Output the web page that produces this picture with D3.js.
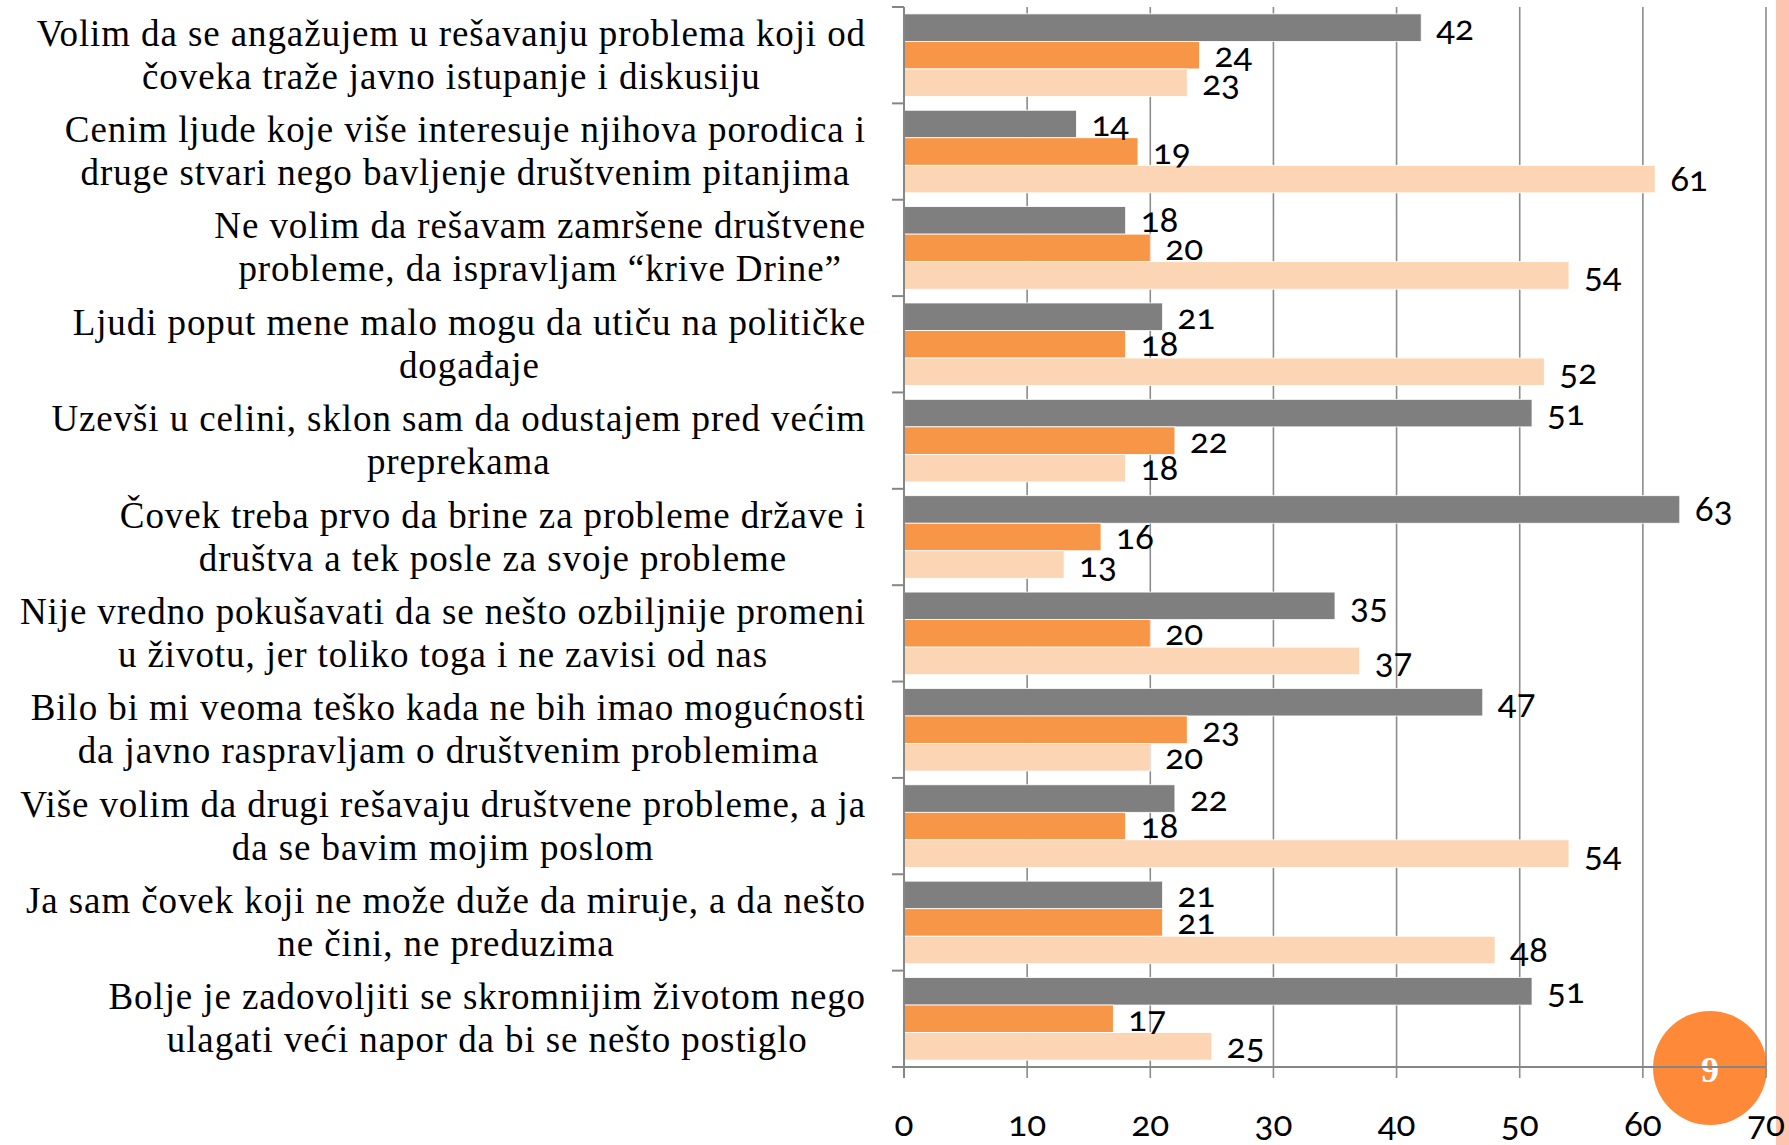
<!DOCTYPE html>
<html>
<head>
<meta charset="utf-8">
<script src="https://cdn.jsdelivr.net/npm/d3@7"></script>
<style>
html,body{margin:0;padding:0;background:#fff;}
svg{display:block;}
</style>
</head>
<body>
<svg id="chart" width="1789" height="1145"></svg>
<script>
const categories = [
  ["Volim da se angažujem u rešavanju problema koji od", "čoveka traže javno istupanje i diskusiju"],
  ["Cenim ljude koje više interesuje njihova porodica i", "druge stvari nego bavljenje društvenim pitanjima"],
  ["Ne volim da rešavam zamršene društvene", "probleme, da ispravljam “krive Drine”"],
  ["Ljudi poput mene malo mogu da utiču na političke", "događaje"],
  ["Uzevši u celini, sklon sam da odustajem pred većim", "preprekama"],
  ["Čovek treba prvo da brine za probleme države i", "društva a tek posle za svoje probleme"],
  ["Nije vredno pokušavati da se nešto ozbiljnije promeni", "u životu, jer toliko toga i ne zavisi od nas"],
  ["Bilo bi mi veoma teško kada ne bih imao mogućnosti", "da javno raspravljam o društvenim problemima"],
  ["Više volim da drugi rešavaju društvene probleme, a ja", "da se bavim mojim poslom"],
  ["Ja sam čovek koji ne može duže da miruje, a da nešto", "ne čini, ne preduzima"],
  ["Bolje je zadovoljiti se skromnijim životom nego", "ulagati veći napor da bi se nešto postiglo"]
];
const seriesNames = ["s1", "s2", "s3"];
const series1 = [42, 14, 18, 21, 51, 63, 35, 47, 22, 21, 51];
const series2 = [24, 19, 20, 18, 22, 16, 20, 23, 18, 21, 17];
const series3 = [23, 61, 54, 52, 18, 13, 37, 20, 54, 48, 25];
const seriesColors = ["#7f7f7f", "#f79646", "#fcd5b5"];
const xTicks = [0, 10, 20, 30, 40, 50, 60, 70];
const slideNumber = "9";

const svg = d3.select("#chart");
const W = 1789, H = 1145;
const serif = "'Liberation Serif', 'DejaVu Serif', serif";
const numFont = "Lato, 'Open Sans', sans-serif";

// decorative right stripe
svg.append("rect").attr("x", 1776).attr("y", 0).attr("width", 13).attr("height", H).attr("fill", "#fdc5b0");

// slide number circle (behind chart)
svg.append("circle").attr("cx", 1710).attr("cy", 1068).attr("r", 57).attr("fill", "#fe8a39");
svg.append("text").attr("x", 1710).attr("y", 1082).attr("text-anchor", "middle")
  .attr("font-family", serif).attr("font-weight", "bold").attr("font-size", 36).attr("fill", "#fff")
  .text(slideNumber);

const x = d3.scaleLinear().domain([0, 70]).range([904, 1766]);
const idx = d3.range(categories.length);
const y = d3.scaleBand().domain(idx).range([7, 1067]).paddingInner(0).paddingOuter(0);
const y1 = d3.scaleBand().domain(seriesNames).range([0, y.bandwidth()]).paddingOuter(0.25).paddingInner(0);

// gridlines (extend below axis as tick marks)
const gridG = svg.append("g");
gridG.selectAll("line").data(xTicks.slice(1)).join("line")
  .attr("x1", d => x(d)).attr("x2", d => x(d))
  .attr("y1", 7).attr("y2", 1078)
  .attr("stroke", "#8c8c8c").attr("stroke-width", 1.6);

// bars
const allSeries = [series1, series2, series3];
const barG = svg.append("g");
allSeries.forEach((vals, si) => {
  barG.selectAll(null).data(vals).join("rect")
    .attr("x", x(0))
    .attr("y", (d, i) => y(i) + y1(seriesNames[si]))
    .attr("width", d => x(d) - x(0))
    .attr("height", y1.bandwidth())
    .attr("fill", seriesColors[si])
    .attr("stroke", "#ffffff").attr("stroke-width", 0.8);
});

// axes
const axisColor = "#868686";
svg.append("line").attr("x1", x(0)).attr("x2", x(0)).attr("y1", 7).attr("y2", 1067)
  .attr("stroke", axisColor).attr("stroke-width", 2);
const bounds = idx.map(i => y(i)).concat([y.range()[1]]);
svg.append("g").selectAll("line").data(bounds).join("line")
  .attr("x1", x(0) - 12).attr("x2", x(0)).attr("y1", d => d).attr("y2", d => d)
  .attr("stroke", axisColor).attr("stroke-width", 2);
svg.append("line").attr("x1", x(0) - 12).attr("x2", x(70)).attr("y1", 1067).attr("y2", 1067)
  .attr("stroke", axisColor).attr("stroke-width", 2);
svg.append("line").attr("x1", x(0)).attr("x2", x(0)).attr("y1", 1067).attr("y2", 1078)
  .attr("stroke", axisColor).attr("stroke-width", 2);

// x tick labels
svg.append("g").selectAll("text").data(xTicks).join("text")
  .attr("x", d => x(d)).attr("y", 1136).attr("text-anchor", "middle")
  .attr("font-family", numFont).attr("font-size", 35).attr("fill", "#000")
  .style("font-variant-numeric", "oldstyle-nums")
  .text(d => d);

// data labels
allSeries.forEach((vals, si) => {
  svg.append("g").selectAll("text").data(vals).join("text")
    .attr("x", d => x(d) + 15)
    .attr("y", (d, i) => y(i) + y1(seriesNames[si]) + y1.bandwidth() / 2 + 12)
    .attr("font-family", numFont).attr("font-size", 35).attr("fill", "#000")
    .style("font-variant-numeric", "oldstyle-nums")
    .text(d => d);
});

// category labels: centered lines, block right-aligned
const labelRight = 866;
const lineGap = 43;
const catG = svg.append("g");
categories.forEach((lines, i) => {
  const g = catG.append("g");
  const cy = y(i) + y.bandwidth() / 2;
  const n = lines.length;
  const texts = lines.map((ln, k) => g.append("text")
    .attr("y", cy + (k - (n - 1) / 2) * lineGap + 12)
    .attr("text-anchor", "middle")
    .attr("font-family", serif).attr("font-size", 37).attr("fill", "#000")
    .style("letter-spacing", "0.9px")
    .text(ln));
  const maxW = d3.max(texts, t => t.node().getComputedTextLength());
  texts.forEach(t => t.attr("x", labelRight - maxW / 2));
});
</script>
</body>
</html>
